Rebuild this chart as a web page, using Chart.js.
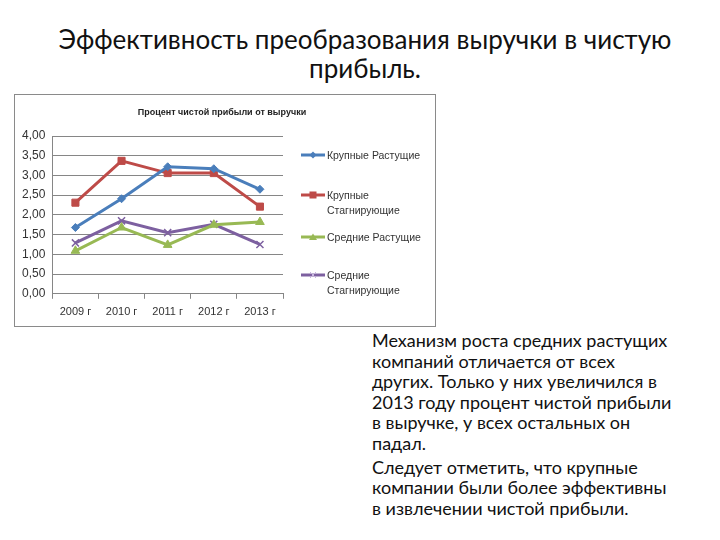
<!DOCTYPE html>
<html>
<head>
<meta charset="utf-8">
<script src="https://cdn.jsdelivr.net/npm/chart.js@4"></script>
<style>
  body { margin: 0; background: #fff; font-family: Lato, "Open Sans", sans-serif; }
  #page { position: relative; width: 720px; height: 540px; overflow: hidden; }
  #title { position: absolute; left: 30px; top: 25px; width: 670px; text-align: center;
           font-size: 26px; line-height: 29px; color: #111; }
  #box { position: absolute; left: 14px; top: 94px; width: 420px; height: 231px;
         border: 1px solid #8a8a8a; background: #fff; }
  #chartWrap { position: absolute; left: 0; top: 0; width: 420px; height: 231px; }
  #chartTitle { position: absolute; left: 107px; top: 12px; width: 200px; text-align: center;
                font-family: "Liberation Sans", sans-serif; font-size: 9px; font-weight: bold; color: #222; }
  #legend { position: absolute; left: 286px; top: 0; width: 134px; height: 231px;
            font-family: "Liberation Sans", sans-serif; font-size: 10.5px; color: #333; }
  .item { position: absolute; left: 0; display: flex; align-items: flex-start; }
  .item svg { flex: none; margin-top: 1px; }
  .item span { line-height: 15px; margin-left: 2px; }
  #text { position: absolute; left: 372px; top: 330px; width: 345px; font-size: 18px;
          line-height: 20.6px; color: #111; white-space: nowrap; }
  #text p { margin: 0 0 3px 0; }
</style>
</head>
<body>
<div id="page">
  <div id="title">Эффективность преобразования выручки в чистую<br>прибыль.</div>
  <div id="box">
    <div id="chartWrap"><canvas id="myChart" width="420" height="231"></canvas></div>
    <div id="chartTitle">Процент чистой прибыли от выручки</div>
    <div id="legend"></div>
  </div>
  <div id="text">
    <p>Механизм роста средних растущих<br>компаний отличается от всех<br>других. Только у них увеличился в<br>2013 году процент чистой прибыли<br>в выручке, у всех остальных он<br>падал.</p>
    <p>Следует отметить, что крупные<br>компании были более эффективны<br>в извлечении чистой прибыли.</p>
  </div>
</div>
<script>
const years = ["2009 г", "2010 г", "2011 г", "2012 г", "2013 г"];
const bigGrowing = [1.68, 2.41, 3.22, 3.17, 2.65];
const bigStagnant = [2.31, 3.37, 3.06, 3.06, 2.21];
const midGrowing = [1.09, 1.68, 1.24, 1.75, 1.82];
const midStagnant = [1.29, 1.85, 1.55, 1.76, 1.25];
const seriesNames = [["Крупные Растущие"], ["Крупные", "Стагнирующие"], ["Средние Растущие"], ["Средние", "Стагнирующие"]];

const colors = ["#4a7ebb", "#be4b48", "#98b954", "#7d60a0"];
const markers = ["rectRot", "rect", "triangle", "crossRot"];
const markerSize = [4, 5, 5, 5];
const legendTop = [53, 93, 135, 173];

const seriesData = [bigGrowing, bigStagnant, midGrowing, midStagnant];

const datasets = seriesData.map((vals, i) => ({
  label: seriesNames[i].join(" "),
  data: vals,
  borderColor: colors[i],
  backgroundColor: colors[i],
  borderWidth: 3,
  pointStyle: markers[i],
  pointRadius: markerSize[i],
  pointBorderWidth: i === 3 ? 1.5 : 1,
  pointBorderColor: colors[i],
  tension: 0
}));

// legend drawn as html so the two-line names wrap like the original
const legend = document.getElementById("legend");
seriesNames.forEach((name, i) => {
  const div = document.createElement("div");
  div.className = "item";
  div.style.top = legendTop[i] + "px";
  let marker;
  const c = colors[i];
  if (i === 0) marker = `<polygon points="12,2.5 15.5,6 12,9.5 8.5,6" fill="${c}"/>`;
  if (i === 1) marker = `<rect x="8.5" y="2.5" width="7" height="7" fill="${c}"/>`;
  if (i === 2) marker = `<polygon points="12,2.5 16,9 8,9" fill="${c}"/>`;
  if (i === 3) marker = `<path d="M9,3 L15,9 M15,3 L9,9" stroke="#c9b6df" stroke-width="1"/>`;
  div.innerHTML = `<svg width="24" height="12"><line x1="0" y1="6" x2="24" y2="6" stroke="${c}" stroke-width="3"/>${marker}</svg><span>${name.join("<br>")}</span>`;
  legend.appendChild(div);
});

const myChart = new Chart(document.getElementById("myChart").getContext("2d"), {
  type: "line",
  data: { labels: years, datasets: datasets },
  options: {
    responsive: false,
    animation: false,
    layout: { padding: { left: 0, right: 152, top: 41, bottom: 0 } },
    plugins: {
      legend: { display: false },
      tooltip: { enabled: false }
    },
    scales: {
      x: {
        offset: true,
        grid: { display: true, offset: true, drawOnChartArea: false, color: "#868686", tickLength: 5 },
        border: { color: "#868686" },
        ticks: { color: "#333", font: { family: "Liberation Sans", size: 11 }, padding: 7 }
      },
      y: {
        min: 0,
        max: 4,
        ticks: {
          stepSize: 0.5,
          color: "#333",
          font: { family: "Liberation Sans", size: 12 },
          padding: 7,
          callback: v => v.toFixed(2).replace(".", ",")
        },
        grid: { color: "#868686", drawTicks: false },
        border: { color: "#868686" }
      }
    }
  }
});
</script>
</body>
</html>
